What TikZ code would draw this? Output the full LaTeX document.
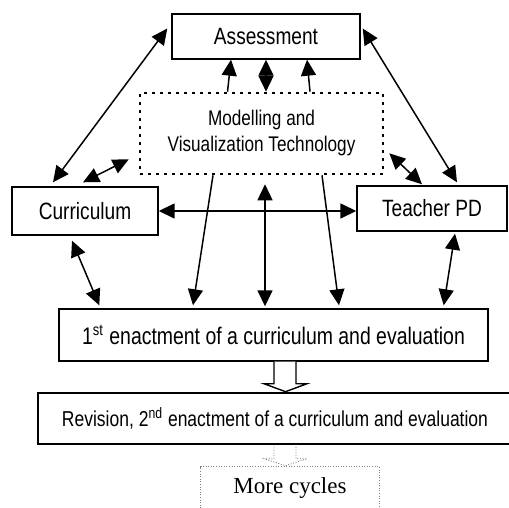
\documentclass[tikz,border=0pt]{standalone}
\usepackage{fontspec}
\setmainfont{Liberation Sans}[FakeStretch=0.81]
\newfontfamily\cyclefont{Liberation Serif}
\usetikzlibrary{arrows.meta,calc}

\begin{document}
\begin{tikzpicture}[x=0.5pt,y=-0.5pt,>={Triangle[length=8pt,width=7.5pt]},
  box/.style={draw,line width=0.7pt,inner sep=0pt,align=center},
  techbox/.style={draw,line width=1.3pt,dash pattern=on 1.3pt off 2.7pt,
  inner sep=0pt,align=center},
  edge/.style={->,line width=0.75pt},
  dedge/.style={<->,line width=0.75pt},
  hollow/.style={draw,fill=white,line width=0.7pt},
  faint/.style={draw=gray,line width=0.4pt,dash pattern=on 0.5pt off 0.8pt}]
\useasboundingbox (0,0) rectangle (509,508);
\clip (0,0) rectangle (509,508);
\node[box,minimum width=94pt,minimum height=22.5pt,
  font=\fontsize{11.8}{14}\selectfont] (assess) at (266,36.5) {Assessment};
\node[techbox,minimum width=121.5pt,minimum height=40.5pt,
  font=\fontsize{10.6}{13}\selectfont] (tech) at (261.5,133.5)
  {Modelling and\\Visualization Technology};
\node[box,minimum width=73pt,minimum height=24pt,
  font=\fontsize{11.8}{14}\selectfont] (curric) at (85,211) {Curriculum};
\node[box,minimum width=75pt,minimum height=22.5pt,
  font=\fontsize{11.8}{14}\selectfont] (teacher) at (432,208.5) {Teacher PD};
\node[box,minimum width=214.5pt,minimum height=26pt,
  font=\fontsize{12}{14}\selectfont] (first) at (273.5,335)
  {1\textsuperscript{st} enactment of a curriculum and evaluation};
\node[box,minimum width=237pt,minimum height=25.5pt,
  font=\fontsize{10.8}{13}\selectfont] (revision) at (275,418.5)
  {Revision, 2\textsuperscript{nd} enactment of a curriculum and evaluation};
\node[minimum width=89pt,minimum height=20.5pt,inner sep=0pt,
  font=\cyclefont\fontsize{11.5}{14}\selectfont] (more) at (290,487.5) {More cycles};
\draw[faint] (more.south west) |- (more.north east) -- (more.south east);

% links round the triangle
\draw[dedge] ($(assess.west)+(-4,-8)$) -- ($(curric.north)+(-32,-4)$);
\draw[dedge] ($(assess.east)+(2,-8)$) -- ($(teacher.north)+(25,-3)$);
\draw[dedge] (curric.east) -- (teacher.west |- curric.east);
\draw[dedge] ($(curric.north)+(-2,-4)$) -- ($(tech.south west)+(-10,-16)$);
\draw[dedge] ($(teacher.north)+(-10,-1)$) -- ($(tech.south east)+(5,-22)$);

% technology and assessment
\draw[edge] ($(tech.north)+(-34,0)$) -- ($(assess.south)+(-35,0)$);
\draw[edge] ($(tech.north)+(48.5,0)$) -- ($(assess.south)+(41,0)$);
\draw[dedge] (assess.south) -- (assess.south |- tech.north);

% into the first enactment
\draw[edge] ($(tech.south)+(-48.5,0)$) -- ($(first.north)+(-80.5,-3)$);
\draw[edge] ($(tech.south)+(60.5,0)$) -- ($(first.north)+(65.5,-3)$);
\draw[dedge] ($(first.north)+(-8.5,-2)$) -- ($(tech.south)+(3.5,9)$);
\draw[dedge] ($(curric.south)+(-13,5)$) -- ($(first.north west)+(41,-3)$);
\draw[dedge] ($(teacher.south)+(23,2)$) -- ($(first.north east)+(-45,-3)$);

% cycle arrows
\draw[hollow] ($(first.south)+(0.5,0)$) -- ++(0,22) -- ++(-10,0) -- ++(21.5,8)
  -- ++(21.5,-8) -- ++(-11,0) -- ++(0,-22);
\draw[faint] ($(revision.south)+(-1,0)$) -- ++(0,14) -- ++(-10,0) -- ++(21.5,7)
  -- ++(21.5,-7) -- ++(-11,0) -- ++(0,-14);
\end{tikzpicture}
\end{document}
